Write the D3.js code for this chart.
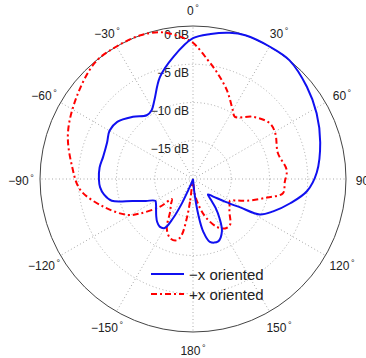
<!DOCTYPE html>
<html>
<head>
<meta charset="utf-8">
<script src="https://cdn.jsdelivr.net/npm/d3@7"></script>
<style>
  body { margin: 0; background: #fff; }
  text { font-family: "Liberation Sans", Arial, sans-serif; fill: #222; }
</style>
</head>
<body>
<div id="chart"></div>
<script>
// radiation patterns, angle in degrees (0 = top, clockwise), gain in dB
const blueAngles = [-175, -160, -157, -155.5, -153, -150, -145, -140, -135, -130, -125, -120, -115, -110, -105, -100, -95, -90, -83, -76, -67, -60, -53, -44, -36, -31, -26, -18, -9, 0, 7, 14, 20, 30, 39, 51, 62, 74, 87, 96, 104, 112, 118, 121, 125, 131, 136, 139, 142, 146, 151, 158, 165, 169, 171.5, 174, 178];
const blueDb = [-20, -19.5, -18.5, -16.5, -14.2, -12.6, -12.4, -12.7, -13.2, -13.7, -14.1, -14.3, -13.2, -11.6, -9.0, -8.2, -7.8, -7.7, -7.7, -7.9, -7.8, -7.4, -7.6, -8.7, -9.7, -9.5, -8.5, -6.0, -3.8, -1.6, -0.9, -0.3, 0, 0, 0, -0.85, -1.7, -2.7, -3.8, -5.0, -6.9, -8.7, -10.1, -12.8, -14.8, -16.5, -17.2, -16.5, -15.2, -13.8, -12.2, -11.2, -11.5, -13.0, -15.2, -18, -20];

const redAngles = [-178, -172.5, -171, -168.5, -165, -159, -152, -145, -139, -133.5, -130, -123, -118.6, -107, -95.5, -84, -70, -55, -40, -30, -20, -13, -8, -4, 0, 7, 13, 21, 30, 34, 44, 54, 61, 73, 84.5, 92, 99, 104, 112, 116, 121, 127, 132, 141, 147, 153.5, 161, 166.5, 173];
const redDb = [-19.5, -17, -14.8, -12.5, -11.7, -11.7, -12.7, -14.8, -15.6, -16.2, -14.4, -11.7, -10.2, -7.7, -5.2, -4.1, -2.6, -1.4, -0.1, 0, 0, -0.3, -0.9, -1.5, -2.2, -4.3, -5.8, -7.6, -9.6, -10.2, -8.7, -7.6, -7.7, -8.4, -7.7, -8.0, -8.1, -10, -12.4, -13.6, -14.4, -14.0, -13.6, -12.3, -12.3, -13.0, -14.6, -16.1, -17.9];

const ringDb = [-15, -10, -5, 0];
const spokeAngles = [0, 30, 60, 90, 120, 150, 180, 210, 240, 270, 300, 330];
const angleLabels = ["0", "30", "60", "90", "120", "150", "180", "\u2212150", "\u2212120", "\u221290", "\u221260", "\u221230"];
const seriesNames = ["\u2212x oriented", "+x oriented"];

const width = 366, height = 358;
const cx = 193, cy = 179, R = 153;
const rad = d => d * Math.PI / 180;

const svg = d3.select("#chart").append("svg")
  .attr("width", width)
  .attr("height", height);

const g = svg.append("g").attr("transform", "translate(" + cx + "," + cy + ")");

// radius scale, -20 dB at the centre
const r = d3.scaleLinear().domain([-20, 0]).range([0, R]);

// dotted rings
g.selectAll(".ring")
  .data(ringDb.filter(d => d < 0))
  .enter().append("circle")
  .attr("r", d => r(d))
  .attr("fill", "none")
  .attr("stroke", "#aaa")
  .attr("stroke-width", 1)
  .attr("stroke-dasharray", "1,2.5");

// dotted spokes
g.selectAll(".spoke")
  .data(spokeAngles)
  .enter().append("line")
  .attr("x1", 0).attr("y1", 0)
  .attr("x2", d => R * Math.sin(rad(d)))
  .attr("y2", d => -R * Math.cos(rad(d)))
  .attr("stroke", "#aaa")
  .attr("stroke-width", 1)
  .attr("stroke-dasharray", "1,2.5");

// outer circle
g.append("circle")
  .attr("r", r(0))
  .attr("fill", "none")
  .attr("stroke", "#444")
  .attr("stroke-width", 1);

// angle labels
const lab = g.selectAll(".alab")
  .data(spokeAngles)
  .enter().append("text")
  .attr("x", d => 172 * Math.sin(rad(d)))
  .attr("y", d => -170 * Math.cos(rad(d)) + 2)
  .attr("text-anchor", "middle")
  .attr("dominant-baseline", "central")
  .style("font-size", "12px");
lab.append("tspan").text((d, i) => angleLabels[i]);
lab.append("tspan").attr("dx", 1.5).attr("dy", -3).style("font-size", "9px").text("\u00b0");

// dB labels
g.selectAll(".dblab")
  .data(ringDb)
  .enter().append("text")
  .attr("x", -4)
  .attr("y", d => -r(d) + 8.5)
  .attr("text-anchor", "end")
  .attr("dominant-baseline", "central")
  .style("font-size", "12px")
  .text(d => (d < 0 ? "\u2212" + (-d) : d) + " dB");

// patterns
const line = d3.lineRadial()
  .angle(d => rad(d[0]))
  .radius(d => r(d[1]))
  .curve(d3.curveCatmullRomClosed.alpha(0.5));

const redData = redAngles.map((a, i) => [a, redDb[i]]);
const blueData = blueAngles.map((a, i) => [a, blueDb[i]]);

g.append("path")
  .attr("d", line(redData))
  .attr("fill", "none")
  .attr("stroke", "#f00")
  .attr("stroke-width", 2)
  .attr("stroke-dasharray", "6,3,2,3");

g.append("path")
  .attr("d", line(blueData))
  .attr("fill", "none")
  .attr("stroke", "#1010f0")
  .attr("stroke-width", 2);

// legend
const legend = svg.append("g");
const styles = [{ c: "#1010f0", dash: null }, { c: "#f00", dash: "6,3,2,3" }];
seriesNames.forEach((name, i) => {
  const y = 274 + i * 20;
  legend.append("line")
    .attr("x1", 151).attr("x2", 184)
    .attr("y1", y).attr("y2", y)
    .attr("stroke", styles[i].c)
    .attr("stroke-width", 2)
    .attr("stroke-dasharray", styles[i].dash);
  legend.append("text")
    .attr("x", 189).attr("y", y)
    .attr("dominant-baseline", "central")
    .style("font-size", "15px")
    .text(name);
});
</script>
</body>
</html>
